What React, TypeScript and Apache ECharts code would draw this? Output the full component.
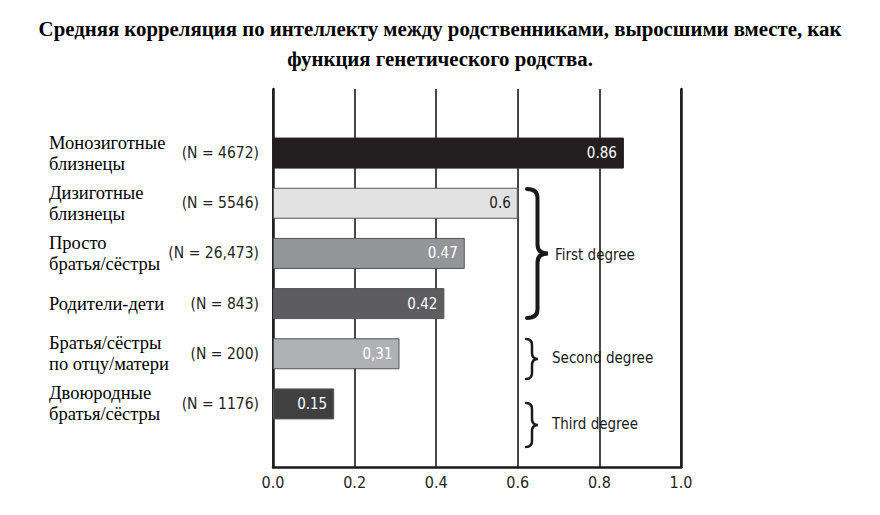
import React, { useEffect, useRef } from "react";
import * as echarts from "echarts";

const titleLines = [
  "Средняя корреляция по интеллекту между родственниками, выросшими вместе, как",
  "функция генетического родства.",
];
const relationNames = [
  "Монозиготные\nблизнецы",
  "Дизиготные\nблизнецы",
  "Просто\nбратья/сёстры",
  "Родители-дети",
  "Братья/сёстры\nпо отцу/матери",
  "Двоюродные\nбратья/сёстры",
];
const sampleSizes = [
  "(N = 4672)",
  "(N = 5546)",
  "(N = 26,473)",
  "(N = 843)",
  "(N = 200)",
  "(N = 1176)",
];
const correlations = [0.86, 0.6, 0.47, 0.42, 0.31, 0.15];
const valueLabels = ["0.86", "0.6", "0.47", "0.42", "0,31", "0.15"];
const barColors = ["#231f20", "#e2e2e3", "#939598", "#5d5d5f", "#b0b1b3", "#404041"];
const labelColors = ["#ffffff", "#1a1a1a", "#ffffff", "#ffffff", "#ffffff", "#ffffff"];
const xTicks = [0, 0.2, 0.4, 0.6, 0.8, 1.0];
const degreeLabels = ["First degree", "Second degree", "Third degree"];

const COND = "DejaVu Sans Condensed";
const SERIF = "Liberation Serif";

let registered = false;
function registerBrace() {
  if (registered) return;
  registered = true;
  const Brace = (echarts.graphic as any).extendShape({
    type: "brace",
    shape: { x: 0, y1: 0, y2: 0, w: 10, r: 6 },
    buildPath(ctx: any, s: any) {
      const xm = s.x + s.w / 2;
      const ym = (s.y1 + s.y2) / 2;
      const r = s.r;
      ctx.moveTo(s.x, s.y1);
      ctx.quadraticCurveTo(xm, s.y1, xm, s.y1 + r);
      ctx.lineTo(xm, ym - r);
      ctx.quadraticCurveTo(xm, ym, s.x + s.w, ym);
      ctx.quadraticCurveTo(xm, ym, xm, ym + r);
      ctx.lineTo(xm, s.y2 - r);
      ctx.quadraticCurveTo(xm, s.y2, s.x, s.y2);
    },
  });
  echarts.graphic.registerShape("brace", Brace);
}

const nameLabelStyle = {
  align: "left",
  fontFamily: SERIF,
  fontSize: 18.5,
  lineHeight: 21,
  color: "#000000",
};

export default function App() {
  const ref = useRef<HTMLDivElement>(null);

  useEffect(() => {
    if (!ref.current) return;
    registerBrace();
    const chart = echarts.init(ref.current, undefined, { renderer: "svg" });

    const braces = [
      { x: 527, y1: 189, y2: 318, w: 21, r: 9, lw: 4, tx: 555, ty: 255 },
      { x: 526, y1: 339, y2: 379, w: 12, r: 6, lw: 2.5, tx: 552, ty: 358 },
      { x: 526, y1: 403, y2: 447, w: 12, r: 6, lw: 2.5, tx: 552, ty: 424 },
    ];

    const graphic: any[] = [];
    braces.forEach((b, i) => {
      graphic.push({
        type: "brace",
        shape: { x: b.x, y1: b.y1, y2: b.y2, w: b.w, r: b.r },
        style: { stroke: "#1a1a1a", lineWidth: b.lw, fill: "none", lineCap: "round" },
        z: 10,
      });
      graphic.push({
        type: "text",
        x: b.tx,
        y: b.ty,
        style: {
          text: degreeLabels[i],
          fontSize: 15,
          fontFamily: COND,
          fill: "#1a1a1a",
          align: "left",
          verticalAlign: "middle",
        },
        z: 11,
      });
    });

    const nameData = relationNames.map((n) =>
      n.includes("\n")
        ? { value: n, textStyle: { ...nameLabelStyle, padding: [8, 0, 0, 0] } }
        : { value: n, textStyle: { ...nameLabelStyle, padding: [0, 0, 0, 0] } }
    );

    chart.setOption({
      animation: false,
      backgroundColor: "#ffffff",
      title: {
        text: titleLines.join("\n"),
        left: "center",
        top: 8,
        textStyle: {
          fontFamily: SERIF,
          fontWeight: "bold",
          fontSize: 20.8,
          lineHeight: 30,
          color: "#000000",
        },
      },
      grid: [
        { left: 273, right: 199, top: 128, bottom: 86, outerBoundsMode: "none", containLabel: false },
        { left: 273, right: 199, top: 89, bottom: 48, outerBoundsMode: "none", containLabel: false },
      ],
      xAxis: [
        { type: "value", gridIndex: 0, min: 0, max: 1, interval: 0.2, show: false },
        {
          type: "value",
          gridIndex: 1,
          min: 0,
          max: 1,
          interval: 0.2,
          axisLine: { show: true, lineStyle: { color: "#1a1a1a", width: 2.5 } },
          axisTick: { show: false },
          axisLabel: {
            margin: 7,
            fontFamily: COND,
            fontSize: 16,
            color: "#231f20",
            formatter: (v: number) => {
              const t = xTicks.find((x) => Math.abs(x - v) < 1e-9);
              return t === undefined ? "" : t.toFixed(1);
            },
          },
          splitLine: { show: true, lineStyle: { color: "#1a1a1a", width: 1.6 } },
        },
      ],
      yAxis: [
        {
          type: "category",
          gridIndex: 0,
          inverse: true,
          data: sampleSizes,
          axisLine: { show: false },
          axisTick: { show: false },
          axisLabel: {
            margin: 14,
            fontFamily: COND,
            fontSize: 15.5,
            color: "#231f20",
          },
        },
        {
          type: "category",
          gridIndex: 0,
          inverse: true,
          position: "left",
          data: nameData,
          axisLine: { show: false },
          axisTick: { show: false },
          axisLabel: {
            margin: 224,
            ...nameLabelStyle,
          },
        },
        {
          type: "value",
          gridIndex: 1,
          position: "left",
          axisLine: { show: true, lineStyle: { color: "#1a1a1a", width: 2.5 } },
          axisTick: { show: false },
          axisLabel: { show: false },
          splitLine: { show: false },
        },
        {
          type: "value",
          gridIndex: 1,
          position: "right",
          axisLine: { show: true, lineStyle: { color: "#1a1a1a", width: 2.5 } },
          axisTick: { show: false },
          axisLabel: { show: false },
          splitLine: { show: false },
        },
      ],
      series: [
        {
          type: "bar",
          xAxisIndex: 0,
          yAxisIndex: 0,
          barWidth: 31,
          z: 5,
          data: correlations.map((v, i) => ({
            value: v,
            itemStyle: {
              color: barColors[i],
              borderColor: i === 0 ? "#231f20" : "#555555",
              borderWidth: 1,
            },
            label: {
              show: true,
              position: "insideRight",
              distance: 7,
              formatter: valueLabels[i],
              color: labelColors[i],
              fontFamily: COND,
              fontSize: 15,
            },
          })),
        },
      ],
      graphic,
    });

    return () => chart.dispose();
  }, []);

  return (
    <div
      ref={ref}
      style={{ position: "fixed", left: 0, top: 0, width: 880, height: 515, background: "#fff" }}
    />
  );
}
